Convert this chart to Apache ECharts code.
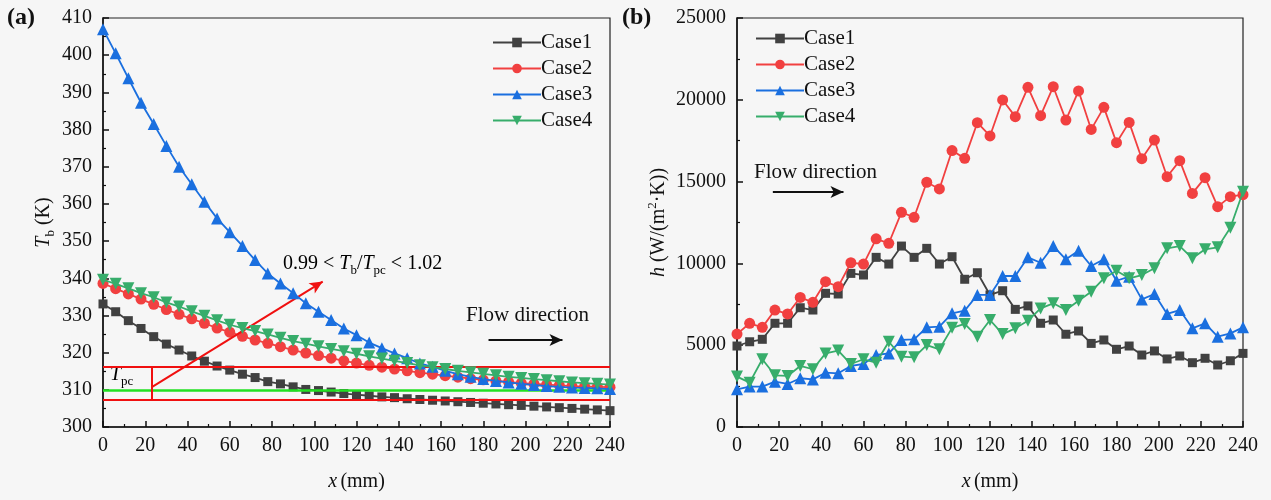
<!DOCTYPE html>
<html>
<head>
<meta charset="utf-8">
<script src="https://cdn.jsdelivr.net/npm/echarts@6/dist/echarts.min.js"></script>
<style>
  html, body { margin: 0; padding: 0; background: #f6f6f6; }
  #chart { width: 1271px; height: 500px; }
</style>
</head>
<body>
<div id="chart"></div>
<script>
// Axial position along the channel (mm), one sample every 6 mm
const xPos = [0, 6, 12, 18, 24, 30, 36, 42, 48, 54, 60, 66, 72, 78, 84, 90, 96, 102, 108, 114,
  120, 126, 132, 138, 144, 150, 156, 162, 168, 174, 180, 186, 192, 198, 204, 210, 216, 222, 228, 234, 240];

const caseNames = ['Case1', 'Case2', 'Case3', 'Case4'];

// (a) bulk temperature T_b (K)
const tbCase1 = [333.1, 331.0, 328.6, 326.5, 324.3, 322.3, 320.7, 319.1, 317.7, 316.4, 315.3, 314.2, 313.3, 312.2,
  311.6, 310.8, 310.1, 309.8, 309.4, 309.0, 308.7, 308.4, 308.1, 307.9, 307.6, 307.4, 307.2, 307.0, 306.8, 306.6,
  306.4, 306.2, 306.0, 305.8, 305.6, 305.4, 305.2, 305.0, 304.8, 304.6, 304.4];
const tbCase2 = [338.6, 337.2, 335.8, 334.4, 333.0, 331.6, 330.3, 329.1, 327.9, 326.6, 325.5, 324.4, 323.4, 322.5,
  321.6, 320.7, 319.9, 319.2, 318.5, 317.8, 317.2, 316.6, 316.1, 315.6, 315.1, 314.6, 314.2, 313.8, 313.4, 313.0,
  312.7, 312.4, 312.1, 311.8, 311.6, 311.4, 311.2, 311.0, 310.9, 310.8, 310.7];
const tbCase3 = [407.0, 400.5, 393.8, 387.2, 381.5, 375.6, 370.0, 365.3, 360.6, 356.1, 352.4, 348.7, 344.9, 341.3,
  338.6, 336.0, 333.3, 331.0, 328.8, 326.5, 324.7, 322.7, 321.2, 319.8, 318.5, 317.1, 316.2, 315.1, 314.2, 313.5,
  312.9, 312.4, 312.0, 311.6, 311.3, 311.0, 310.8, 310.6, 310.5, 310.4, 310.2];
const tbCase4 = [339.6, 338.5, 337.3, 336.0, 334.9, 333.5, 332.4, 331.1, 329.9, 328.7, 327.5, 326.6, 325.8, 324.9,
  324.0, 323.1, 322.4, 321.7, 321.0, 320.4, 319.7, 319.0, 318.4, 317.8, 317.2, 316.6, 316.1, 315.6, 315.1, 314.7,
  314.3, 313.9, 313.5, 313.2, 312.9, 312.6, 312.3, 312.0, 311.8, 311.6, 311.4];

// (b) heat transfer coefficient h (W/(m^2 K))
const hCase1 = [4950, 5210, 5360, 6340, 6340, 7290, 7150, 8170, 8130, 9390, 9290, 10370, 9960, 11060, 10370,
  10920, 9960, 10410, 9030, 9430, 8070, 8330, 7190, 7400, 6340, 6540, 5670, 5870, 5110, 5320, 4750, 4950, 4400,
  4650, 4160, 4340, 3930, 4200, 3790, 4050, 4500];
const hCase2 = [5680, 6340, 6090, 7150, 6910, 7920, 7620, 8880, 8580, 10040, 9960, 11500, 11230, 13120, 12820,
  14960, 14550, 16900, 16420, 18600, 17790, 19990, 18970, 20760, 19030, 20800, 18760, 20540, 18190, 19540, 17380,
  18620, 16400, 17540, 15300, 16280, 14280, 15240, 13470, 14080, 14200];
const hCase3 = [2300, 2470, 2470, 2770, 2630, 2980, 2910, 3320, 3280, 3730, 3850, 4400, 4500, 5320, 5360, 6090,
  6130, 6950, 7110, 8070, 8070, 9230, 9230, 10370, 10040, 11060, 10250, 10780, 9840, 10250, 8940, 9190, 7800,
  8130, 6910, 7150, 6030, 6340, 5520, 5720, 6090];
const hCase4 = [3080, 2710, 4140, 3160, 3120, 3730, 3530, 4500, 4670, 3850, 4140, 3930, 5210, 4300, 4260, 5010,
  4750, 6060, 6300, 5520, 6540, 5680, 6030, 6500, 7250, 7560, 7150, 7720, 8270, 9090, 9550, 9090, 9290, 9700,
  10920, 11060, 10310, 10860, 10980, 12180, 14380];

// Tick labels
const xTicks = [0, 20, 40, 60, 80, 100, 120, 140, 160, 180, 200, 220, 240];
const tbTicks = [300, 310, 320, 330, 340, 350, 360, 370, 380, 390, 400, 410];
const hTicks = [0, 5000, 10000, 15000, 20000, 25000];

// Pseudo-critical band: 0.99 T_pc, T_pc, 1.02 T_pc
const tpcBand = [307.2, 309.8, 316.3];
const bandMarkerX = 23.3;          // vertical bracket on the band
const ratioArrow = [[23.3, 310.8], [104, 339.1]];
const flowArrowA = [[182.5, 323.4], [217.5, 323.4]];
const flowArrowB = [[17, 14360], [50.5, 14360]];

const colors = ['#414141', '#f14040', '#1a6fdf', '#37ad6b'];
const symbols = ['rect', 'circle', 'triangle', 'triangle'];
const symbolSizes = [9, 11, 12, 12];
const symbolRotates = [0, 0, 0, 180];

const FONT = '"Liberation Serif", "Times New Roman", serif';

const richText = {
  n: { fontFamily: FONT, fontSize: 20, color: '#111', lineHeight: 26 },
  i: { fontFamily: FONT, fontSize: 20, color: '#111', fontStyle: 'italic', lineHeight: 26 },
  sub: { fontFamily: FONT, fontSize: 13, color: '#111', lineHeight: 13, verticalAlign: 'bottom' },
  sup: { fontFamily: FONT, fontSize: 13, color: '#111', lineHeight: 13, verticalAlign: 'top' }
};

function pairs(xs, ys) { return xs.map((x, k) => [x, ys[k]]); }

function caseSeries(values, k, gridIdx) {
  return {
    name: caseNames[k],
    type: 'line',
    xAxisIndex: gridIdx,
    yAxisIndex: gridIdx,
    data: pairs(xPos, values),
    symbol: symbols[k],
    symbolSize: symbolSizes[k],
    symbolRotate: symbolRotates[k],
    showAllSymbol: true,
    color: colors[k],
    lineStyle: { width: 1.8, color: colors[k] },
    itemStyle: { color: colors[k] },
    z: 3 + k,
    emphasis: { disabled: true },
    animation: false
  };
}

function xAxisDef(gridIdx) {
  return {
    type: 'value', gridIndex: gridIdx, min: 0, max: 240, interval: 20,
    name: '{i|x} {n|(mm)}', nameLocation: 'middle', nameGap: 42,
    nameTextStyle: { rich: richText },
    axisLine: { show: true, onZero: false, lineStyle: { color: '#111', width: 1.5 } },
    axisTick: { show: true, inside: true, length: 6, lineStyle: { color: '#111', width: 1.5 } },
    minorTick: { show: true, splitNumber: 2, length: 3, lineStyle: { color: '#111', width: 1.2 } },
    splitLine: { show: false },
    axisLabel: {
      margin: 9, fontFamily: FONT, fontSize: 20, color: '#111',
      formatter: v => (xTicks.indexOf(v) >= 0 ? String(v) : '')
    }
  };
}

function yAxisDef(gridIdx, ticks, interval, name, gap) {
  return {
    type: 'value', gridIndex: gridIdx, min: ticks[0], max: ticks[ticks.length - 1], interval: interval,
    name: name, nameLocation: 'middle', nameGap: gap, nameRotate: 90,
    nameTextStyle: { rich: richText },
    axisLine: { show: true, onZero: false, lineStyle: { color: '#111', width: 1.5 } },
    axisTick: { show: true, inside: true, length: 6, lineStyle: { color: '#111', width: 1.5 } },
    minorTick: { show: true, splitNumber: 2, length: 3, lineStyle: { color: '#111', width: 1.2 } },
    splitLine: { show: false },
    axisLabel: {
      margin: 11, fontFamily: FONT, fontSize: 20, color: '#111',
      formatter: v => (ticks.indexOf(v) >= 0 ? String(v) : '')
    }
  };
}

function legendDef(left, top) {
  return {
    data: caseNames, orient: 'vertical', left: left, top: top,
    itemWidth: 48, itemHeight: 12, itemGap: 5,
    textStyle: { fontFamily: FONT, fontSize: 21, color: '#111', lineHeight: 21, padding: [0, 0, 0, -5] },
    selectedMode: false
  };
}

const lineSeg = (a, b, color, arrow) => [
  { coord: a, symbol: 'none' },
  { coord: b, symbol: arrow ? 'arrow' : 'none', symbolSize: arrow ? [9, 13] : 0, lineStyle: { color: color } }
];

const gridBase = { show: true, borderColor: '#222', borderWidth: 1.2, backgroundColor: 'transparent', outerBoundsMode: 'none', containLabel: false };

const option = {
  backgroundColor: '#f6f6f6',
  animation: false,
  grid: [
    Object.assign({ left: 103, top: 18, width: 507, height: 409 }, gridBase),
    Object.assign({ left: 737, top: 18, width: 506, height: 409 }, gridBase)
  ],
  xAxis: [xAxisDef(0), xAxisDef(1)],
  yAxis: [
    yAxisDef(0, tbTicks, 10, '{i|T}{sub|b}{n| (K)}', 46),
    yAxisDef(1, hTicks, 5000, '{i|h}{n| (W/(m}{sup|2}{n|·K))}', 65)
  ],
  legend: [legendDef(487, 27), legendDef(750, 23)],
  series: [
    caseSeries(tbCase1, 0, 0), caseSeries(tbCase2, 1, 0), caseSeries(tbCase3, 2, 0), caseSeries(tbCase4, 3, 0),
    caseSeries(hCase1, 0, 1), caseSeries(hCase2, 1, 1), caseSeries(hCase3, 2, 1), caseSeries(hCase4, 3, 1),
    {
      name: 'bandA', type: 'line', xAxisIndex: 0, yAxisIndex: 0, data: [], z: 2,
      markLine: {
        silent: true, animation: false, symbol: ['none', 'none'], label: { show: false },
        emphasis: { disabled: true },
        lineStyle: { type: 'solid', width: 2, color: '#f01010' },
        data: [
          { yAxis: tpcBand[0], lineStyle: { color: '#f01010', width: 2 } },
          { yAxis: tpcBand[1], lineStyle: { color: '#22e022', width: 2.5 } },
          { yAxis: tpcBand[2], lineStyle: { color: '#f01010', width: 2 } },
          lineSeg([bandMarkerX, tpcBand[0]], [bandMarkerX, tpcBand[2]], '#f01010', false),
          lineSeg(ratioArrow[0], ratioArrow[1], '#f01010', true),
          lineSeg(flowArrowA[0], flowArrowA[1], '#111', true)
        ]
      }
    },
    {
      name: 'flowB', type: 'line', xAxisIndex: 1, yAxisIndex: 1, data: [], z: 2,
      markLine: {
        silent: true, animation: false, symbol: ['none', 'none'], label: { show: false },
        emphasis: { disabled: true },
        lineStyle: { type: 'solid', width: 2, color: '#111' },
        data: [ lineSeg(flowArrowB[0], flowArrowB[1], '#111', true) ]
      }
    }
  ],
  graphic: [
    { type: 'text', left: 7, top: 6, style: { text: '(a)', font: 'bold 24px ' + FONT, fill: '#111' } },
    { type: 'text', left: 622, top: 6, style: { text: '(b)', font: 'bold 24px ' + FONT, fill: '#111' } },
    { type: 'text', left: 283, top: 254, style: {
        text: '{n|0.99 < }{i|T}{sub|b}{n|/}{i|T}{sub|pc}{n| < 1.02}', rich: richText } },
    { type: 'text', left: 110, top: 365, style: { text: '{i|T}{sub|pc}', rich: richText } },
    { type: 'text', left: 466, top: 305, style: { text: 'Flow direction', font: '21px ' + FONT, fill: '#111' } },
    { type: 'text', left: 754, top: 162, style: { text: 'Flow direction', font: '21px ' + FONT, fill: '#111' } }
  ]
};

const chart = echarts.init(document.getElementById('chart'), null, { renderer: 'canvas' });
chart.setOption(option);
</script>
</body>
</html>
